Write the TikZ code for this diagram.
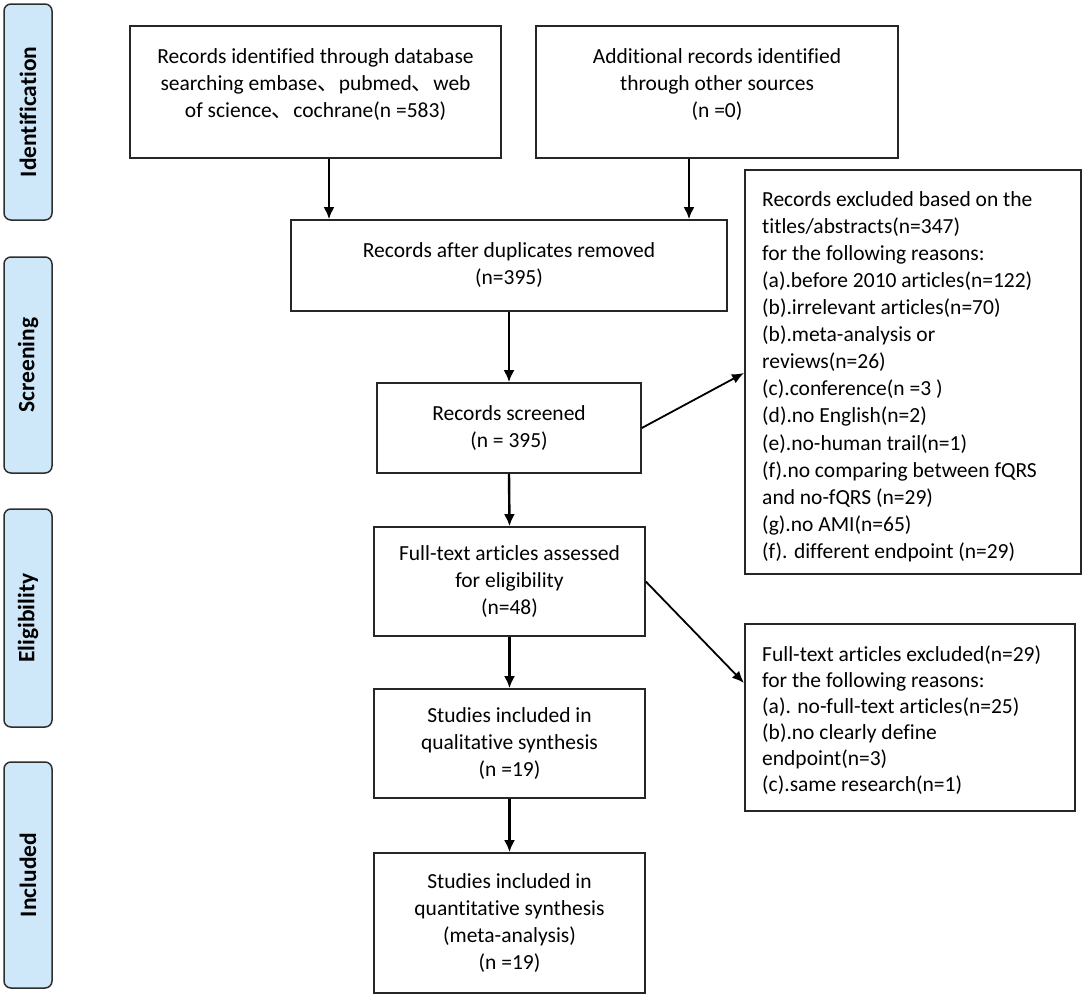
\documentclass[tikz,border=0pt]{standalone}
\usepackage{fontspec}
\setmainfont{Carlito}[Ligatures=NoCommon]
\newfontfamily\cjk{Noto Sans CJK SC}
\usetikzlibrary{arrows.meta,calc}
\definecolor{sideblue}{RGB}{206,232,249}
\definecolor{sideline}{RGB}{45,45,45}
\newcommand{\cc}{{\cjk 、}}
\begin{document}
\begin{tikzpicture}[x=1pt,y=-1pt,
  mainbox/.style={draw=black!85, line width=1.6pt, align=center, inner sep=0pt,
    font=\fontsize{21.5}{27}\selectfont},
  boxtext/.style={align=center, inner sep=0pt, font=\fontsize{21.5}{27}\selectfont},
  sidebox/.style={draw=sideline, fill=sideblue, line width=1.5pt, rounded corners=7pt,
    minimum width=48pt, inner sep=0pt},
  sidetext/.style={rotate=90, font=\fontsize{23.5}{27}\bfseries\selectfont},
  arr/.style={line width=2.4pt, draw=black, -{Latex[length=12pt,width=11pt]}},
  lnk/.style={line width=1.8pt, draw=black, -{Latex[length=12pt,width=10pt]}}]
\useasboundingbox (0,0) rectangle (1084,1001);
% side stage boxes
\node[sidebox, minimum height=216pt] (sid) at (28,112) {};
\node[sidetext] (tid) at (sid.center) {Identification};
\node[sidebox, minimum height=216pt] (sscr) at (28,365) {};
\node[sidetext] (tscr) at (sscr.center) {Screening};
\node[sidebox, minimum height=218pt] (selg) at (28,618) {};
\node[sidetext] (telg) at (selg.center) {Eligibility};
\node[sidebox, minimum height=226pt] (sinc) at (28,875) {};
\node[sidetext] (tinc) at (sinc.center) {Included};
% main boxes
\node[mainbox, minimum width=371pt, minimum height=132pt] (b1) at (315.5,92) {};
\node[boxtext] (t1) at ($(b1.center)+(0,-7)$)
  {Records identified through database\\ searching embase\cc pubmed\cc web\\ of science\cc cochrane(n =583)};
\node[mainbox, minimum width=362pt, minimum height=132pt] (b2) at (717,92) {};
\node[boxtext] (t2) at ($(b2.center)+(0,-7)$)
  {Additional records identified\\ through other sources\\ (n =0)};
\node[mainbox, minimum width=436pt, minimum height=91pt] (b3) at (509,265.5)
  {Records after duplicates removed\\ (n=395)};
\node[mainbox, minimum width=264pt, minimum height=90pt] (b4) at (509,428)
  {Records screened\\ (n = 395)};
\node[mainbox, minimum width=271pt, minimum height=109pt] (b5) at (509.5,581.5)
  {Full-text articles assessed\\ for eligibility\\ (n=48)};
\node[mainbox, minimum width=271pt, minimum height=109pt] (b6) at (509.5,743.5)
  {Studies included in\\ qualitative synthesis\\ (n =19)};
\node[mainbox, minimum width=271pt, minimum height=140pt] (b7) at (509.5,923)
  {Studies included in\\ quantitative synthesis\\ (meta-analysis)\\ (n =19)};
\node[mainbox, minimum width=336pt, minimum height=404pt, anchor=north west] (excl) at (744,169) {};
\node[anchor=north west, align=left, inner sep=0pt, font=\fontsize{21.5}{27.1}\selectfont] (excltxt) at ($(excl.north west)+(18,22)$)
  {Records excluded based on the\\
   titles/abstracts(n=347)\\
   for the following reasons:\\
   (a).before 2010 articles(n=122)\\
   (b).irrelevant articles(n=70)\\
   (b).meta-analysis or\\
   reviews(n=26)\\
   (c).conference(n =3 )\\
   (d).no English(n=2)\\
   (e).no-human trail(n=1)\\
   (f).no comparing between fQRS\\
   and no-fQRS (n=29)\\
   (g).no AMI(n=65)\\
   (f). different endpoint (n=29)};
\node[mainbox, minimum width=330pt, minimum height=187pt, anchor=north west] (fte) at (744,623) {};
\node[anchor=north west, align=left, inner sep=0pt, font=\fontsize{21.5}{26}\selectfont] (ftetxt) at ($(fte.north west)+(18,23)$)
  {Full-text articles excluded(n=29)\\
   for the following reasons:\\
   (a). no-full-text articles(n=25)\\
   (b).no clearly define\\
   endpoint(n=3)\\
   (c).same research(n=1)};
% connectors
\coordinate (p1) at ($(b1.south)+(13.5,0)$);
\coordinate (p2) at ($(b2.south)+(-28,0)$);
\draw[arr] (p1) -- (p1 |- b3.north);
\draw[arr] (p2) -- (p2 |- b3.north);
\draw[arr] (b3.south) -- (b4.north);
\draw[arr] (b4.south) -- (b5.north);
\draw[arr] (b5.south) -- (b6.north);
\draw[arr] (b6.south) -- (b7.north);
\coordinate (q1) at ($(excl.north west)+(0,204)$);
\coordinate (q2) at ($(fte.north west)+(0,60)$);
\draw[lnk] (b4.east) -- (q1);
\draw[lnk] (b5.east) -- (q2);
\end{tikzpicture}
\end{document}
